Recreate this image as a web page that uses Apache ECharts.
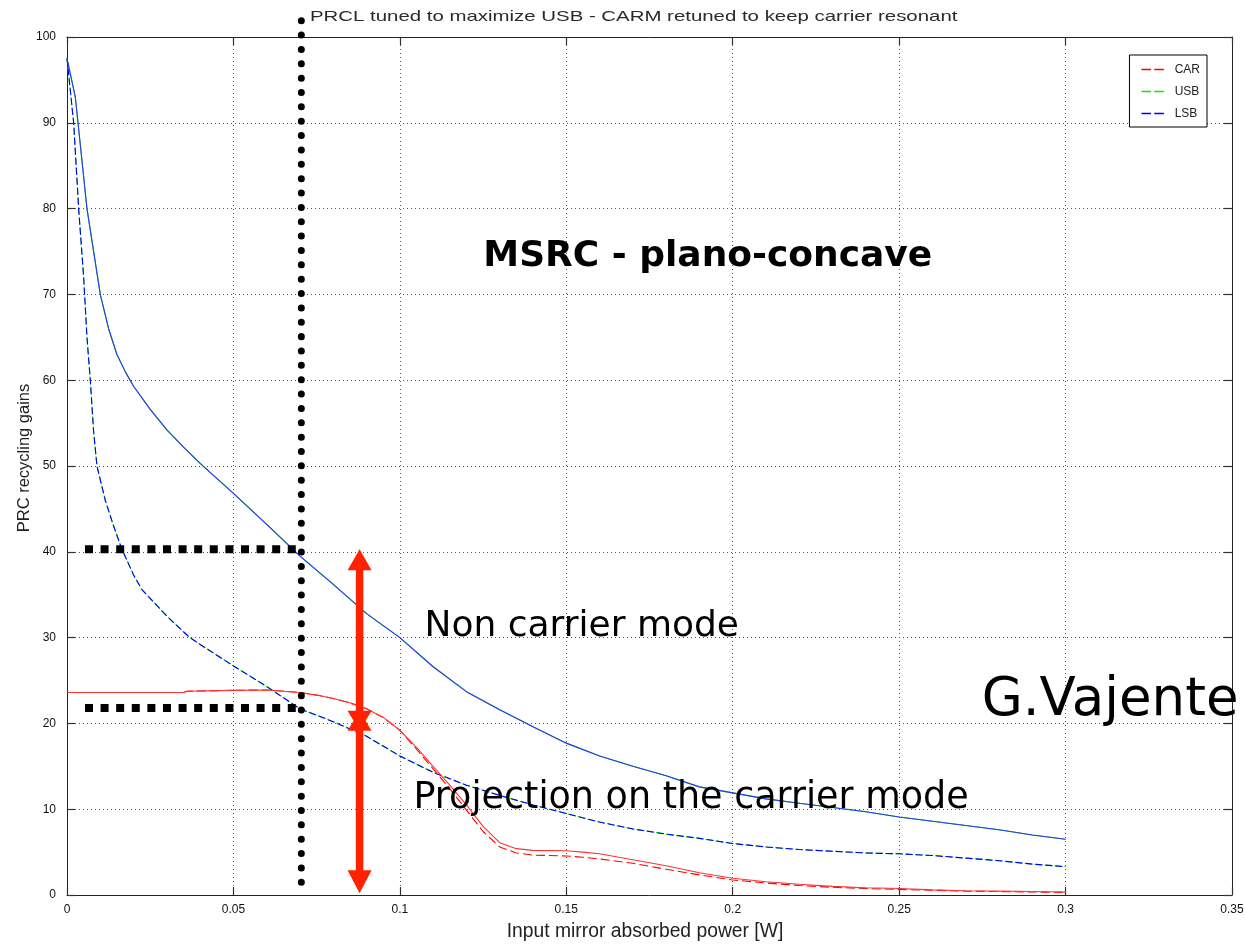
<!DOCTYPE html>
<html>
<head>
<meta charset="utf-8">
<title>PRC recycling gains</title>
<script src="https://cdn.jsdelivr.net/npm/echarts@6/dist/echarts.min.js"></script>
<style>
  html, body { margin: 0; padding: 0; background: #fff; overflow: hidden; }
  #chart { width: 1245px; height: 944px; }
</style>
</head>
<body>
<div id="chart"></div>
<script>
// Carrier gain (solid and dashed traces share one abscissa)
const carX = [0, 0.02, 0.035, 0.036, 0.05, 0.06, 0.07, 0.075, 0.08, 0.085, 0.09, 0.095, 0.1, 0.105, 0.11, 0.115, 0.12, 0.125, 0.13, 0.135, 0.14, 0.15, 0.155, 0.16, 0.17, 0.18, 0.19, 0.2, 0.21, 0.22, 0.23, 0.24, 0.25, 0.26, 0.27, 0.28, 0.29, 0.3];
const carSolid = [23.6, 23.6, 23.6, 23.75, 23.85, 23.9, 23.6, 23.3, 22.9, 22.4, 21.7, 20.7, 19.2, 17.2, 15.0, 12.8, 10.5, 8.0, 6.1, 5.4, 5.2, 5.15, 5.0, 4.8, 4.1, 3.4, 2.6, 1.95, 1.55, 1.25, 1.0, 0.85, 0.75, 0.6, 0.5, 0.45, 0.4, 0.35];
const carDashed = [23.6, 23.6, 23.6, 23.75, 23.85, 23.9, 23.6, 23.3, 22.9, 22.4, 21.7, 20.7, 19.2, 17.0, 14.7, 12.4, 9.9, 7.4, 5.6, 4.9, 4.65, 4.55, 4.4, 4.2, 3.7, 3.0, 2.35, 1.75, 1.4, 1.1, 0.9, 0.75, 0.65, 0.55, 0.45, 0.4, 0.35, 0.3];

// Sideband gains, solid trace
const sbSolidX = [0, 0.0025, 0.006, 0.01, 0.0125, 0.015, 0.0175, 0.02, 0.025, 0.03, 0.035, 0.04, 0.05, 0.06, 0.07, 0.08, 0.09, 0.1, 0.11, 0.12, 0.13, 0.14, 0.15, 0.16, 0.17, 0.18, 0.19, 0.2, 0.21, 0.22, 0.23, 0.24, 0.25, 0.26, 0.27, 0.28, 0.29, 0.3];
const sbSolid = [97.5, 93, 80, 70, 66, 63, 61, 59.3, 56.6, 54.2, 52.2, 50.3, 46.8, 43.2, 39.5, 36.2, 32.8, 30, 26.6, 23.7, 21.6, 19.6, 17.7, 16.2, 15.0, 13.9, 12.6, 11.9, 11.2, 10.7, 10.2, 9.7, 9.1, 8.6, 8.1, 7.6, 7.0, 6.5];

// Sideband gains, dashed trace
const sbDashX = [0, 0.002, 0.0035, 0.005, 0.006, 0.007, 0.008, 0.009, 0.0115, 0.014, 0.0165, 0.02, 0.0225, 0.03, 0.0366, 0.04, 0.05, 0.06, 0.07, 0.08, 0.09, 0.1, 0.11, 0.12, 0.13, 0.14, 0.15, 0.16, 0.17, 0.18, 0.19, 0.2, 0.21, 0.22, 0.23, 0.24, 0.25, 0.26, 0.27, 0.28, 0.29, 0.3];
const sbDashed = [97.5, 90, 80, 72, 65, 60, 54, 50, 46, 43, 40.3, 37.3, 35.6, 32.5, 30.1, 29.2, 26.7, 24.3, 21.7, 20.2, 18.5, 16.2, 14.3, 12.8, 11.6, 10.5, 9.5, 8.5, 7.7, 7.1, 6.6, 6.0, 5.6, 5.3, 5.1, 4.9, 4.8, 4.6, 4.3, 4.0, 3.6, 3.3];

// Annotation anchors (data units)
const markerX = 0.0704;         // vertical dotted marker
const levelNonCarrier = 40.3;   // horizontal marker levels
const levelCarrier = 21.8;
const levelStartX = 0.0054;
const arrowX = 0.0879;
const arrowTop = 40.3;
const arrowMid = 20.3;
const arrowBottom = 0.2;

const notes = [
  { text: 'MSRC - plano-concave', x: 0.1925, y: 74.4, align: 'center', font: 'bold 36px "DejaVu Sans"' },
  { text: 'Non carrier mode', x: 0.1074, y: 31.3, align: 'left', font: '36px "DejaVu Sans"' },
  { text: 'Projection on the carrier mode', x: 0.1041, y: 11.2, align: 'left', font: '36.5px "DejaVu Sans"' },
  { text: 'G.Vajente', x: 0.2748, y: 22.6, align: 'left', font: '53px "DejaVu Sans"' }
];

const chartTitle = 'PRCL tuned to maximize USB - CARM retuned to keep carrier resonant';

const zip = (xs, ys) => xs.map((x, i) => [x, ys[i]]);

const baseFont = '"Liberation Sans", Arial, sans-serif';

function lineSeries(name, xs, ys, color, dash, dashOffset, z) {
  return {
    name: name,
    type: 'line',
    data: zip(xs, ys),
    showSymbol: false,
    symbol: 'none',
    smooth: false,
    z: z,
    animation: false,
    lineStyle: { color: color, width: 1.1, type: dash, dashOffset: dashOffset || 0 },
    itemStyle: { color: color }
  };
}

const ARROW_RED = '#ff2200';

function arrowHead(cx, tipY, dir, w, h) {
  // dir = -1 points up, +1 points down
  const baseY = tipY - dir * h;
  return {
    type: 'polygon',
    shape: { points: [[cx, tipY], [cx - w / 2, baseY], [cx + w / 2, baseY]] },
    style: { fill: ARROW_RED }
  };
}

const annotationSeries = {
  type: 'custom',
  name: 'annotations',
  silent: true,
  animation: false,
  z: 20,
  data: [[markerX, arrowMid]],
  renderItem: function (params, api) {
    const children = [];
    // vertical round-dot marker
    const vTop = api.coord([markerX, 101.9]);
    const vBot = api.coord([markerX, 0]);
    children.push({
      type: 'line',
      shape: { x1: vTop[0], y1: vTop[1], x2: vBot[0], y2: vBot[1] - 2 },
      style: { stroke: '#000', lineWidth: 7, lineCap: 'round', lineDash: [0.01, 14.35] }
    });
    // horizontal square-dot markers
    [levelNonCarrier, levelCarrier].forEach(function (lv) {
      const a = api.coord([levelStartX, lv]);
      const b = api.coord([markerX, lv]);
      children.push({
        type: 'line',
        shape: { x1: a[0], y1: a[1], x2: b[0] - 4, y2: b[1] },
        style: { stroke: '#000', lineWidth: 8, lineCap: 'butt', lineDash: [8, 7.6] }
      });
    });
    // red double arrows
    const top = api.coord([arrowX, arrowTop]);
    const mid = api.coord([arrowX, arrowMid]);
    const bot = api.coord([arrowX, arrowBottom]);
    children.push({
      type: 'line',
      shape: { x1: top[0], y1: top[1] + 12, x2: bot[0], y2: bot[1] - 12 },
      style: { stroke: ARROW_RED, lineWidth: 7.5, lineCap: 'butt' }
    });
    children.push(arrowHead(top[0], top[1], -1, 24, 21));
    children.push(arrowHead(bot[0], bot[1], 1, 24, 23));
    children.push(arrowHead(mid[0], mid[1] + 10, 1, 24, 20));
    children.push(arrowHead(mid[0], mid[1] - 10, -1, 24, 20));
    // text notes
    notes.forEach(function (n) {
      const p = api.coord([n.x, n.y]);
      children.push({
        type: 'text',
        style: {
          text: n.text, x: p[0], y: p[1], font: n.font, fill: '#000',
          textAlign: n.align, textVerticalAlign: 'middle'
        }
      });
    });
    return { type: 'group', children: children };
  }
};

const chart = echarts.init(document.getElementById('chart'), null, { renderer: 'canvas' });

const tickFmt = function (v) {
  if (v === 0) return '0';
  return String(Math.round(v * 100) / 100);
};

const axisCommon = {
  type: 'value',
  axisLine: { show: true, onZero: false, lineStyle: { color: '#222', width: 1 } },
  axisTick: { show: true, inside: true, length: 8, lineStyle: { color: '#333', width: 1.2 } },
  splitLine: { show: false },
  axisLabel: { show: false }
};

// legend key: a short dashed stroke
const dashIcon = 'path://M0,0h12v2h-12z M16,0h12v2h-12z';

chart.setOption({
  backgroundColor: '#fff',
  animation: false,
  graphic: [{
    type: 'text',
    left: 310,
    top: 9,
    scaleX: 1.36,
    style: { text: chartTitle, font: '15px ' + baseFont, fill: '#2a2a2a' }
  }],
  legend: {
    data: [
      { name: 'CAR', icon: dashIcon },
      { name: 'USB', icon: dashIcon },
      { name: 'LSB', icon: dashIcon }
    ],
    orient: 'vertical',
    right: 38,
    top: 55,
    padding: [8, 7, 7, 12],
    itemWidth: 28,
    itemHeight: 1.6,
    itemGap: 9,
    backgroundColor: '#fff',
    borderColor: '#000',
    borderWidth: 1,
    borderRadius: 0,
    textStyle: { fontFamily: baseFont, fontSize: 12, color: '#222', lineHeight: 13, padding: [0, 0, 0, 3] }
  },
  grid: { left: 67, right: 13, top: 37, bottom: 49, containLabel: false, outerBoundsMode: 'none' },
  xAxis: [
    Object.assign({}, axisCommon, {
      min: 0, max: 0.35, interval: 0.05,
      position: 'bottom',
      name: 'Input mirror absorbed power [W]',
      nameLocation: 'middle',
      nameGap: 27,
      nameTextStyle: { fontFamily: baseFont, fontSize: 19.3, color: '#222', padding: [0, 9, 0, 0] },
      axisLabel: { show: true, formatter: tickFmt, margin: 9, fontFamily: baseFont, fontSize: 12, color: '#111' },
      splitLine: { show: true, lineStyle: { color: '#555', width: 1, type: [1, 3] } }
    }),
    Object.assign({}, axisCommon, {
      min: 0, max: 0.35, interval: 0.05, position: 'top'
    })
  ],
  yAxis: [
    Object.assign({}, axisCommon, {
      min: 0, max: 100, interval: 10,
      position: 'left',
      name: 'PRC recycling gains',
      nameLocation: 'middle',
      nameGap: 34,
      nameMoveOverlap: false,
      nameTextStyle: { fontFamily: baseFont, fontSize: 16.5, color: '#222', padding: [0, 0, 0, 16] },
      axisLabel: { show: true, margin: 11, fontFamily: baseFont, fontSize: 12, color: '#111' },
      splitLine: { show: true, lineStyle: { color: '#555', width: 1, type: [1, 3] } }
    }),
    Object.assign({}, axisCommon, {
      min: 0, max: 100, interval: 10, position: 'right'
    })
  ],
  series: [
    lineSeries('USB', sbDashX, sbDashed, '#00ee00', [7, 3], 1, 2),
    lineSeries('USB solid', sbSolidX, sbSolid, '#00ee00', 'solid', 0, 2),
    lineSeries('LSB', sbDashX, sbDashed, '#0000ff', [7, 3], 0, 3),
    lineSeries('LSB solid', sbSolidX, sbSolid, '#3333ff', 'solid', 0, 3),
    lineSeries('CAR', carX, carDashed, '#ff0000', [9, 4], 0, 4),
    lineSeries('CAR solid', carX, carSolid, '#ff3333', 'solid', 0, 4),
    annotationSeries
  ]
});
</script>
</body>
</html>
